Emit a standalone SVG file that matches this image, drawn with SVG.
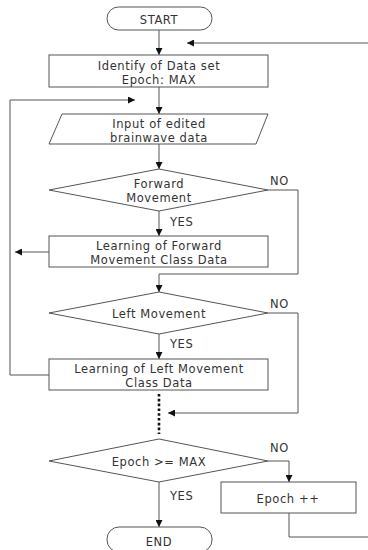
<svg xmlns="http://www.w3.org/2000/svg" width="368" height="550" viewBox="0 0 368 550">
<style>
.s{fill:#fff;stroke:#555;stroke-width:1}
.c{fill:none;stroke:#555;stroke-width:1}
.a{marker-end:url(#ah)}
text{font-family:"DejaVu Sans","Noto Sans","Liberation Sans",sans-serif;font-size:11.5px;letter-spacing:0.6px;fill:#333;text-anchor:middle;dominant-baseline:central}
.l{text-anchor:start}
</style>
<defs>
<marker id="ah" viewBox="0 0 10 10" refX="10" refY="5" markerWidth="7" markerHeight="7" markerUnits="userSpaceOnUse" orient="auto">
<path d="M0,0 L10,5 L0,10 z" fill="#111"/>
</marker>
</defs>
<rect width="368" height="550" fill="#fff"/>
<g id="connectors">
<path class="c a" d="M159,30 V55"/>
<path class="c a" d="M368,43 H187"/>
<path class="c a" d="M159,87 V114"/>
<path class="c a" d="M49,375 H10 V100 H135"/>
<path class="c a" d="M159,144 V169"/>
<path class="c a" d="M159,211 V236"/>
<path class="c a" d="M49,252 H15"/>
<path class="c a" d="M268,190 H298 V274 H159 V292"/>
<path class="c a" d="M159,334 V359"/>
<path class="c a" d="M268,313 H298 V413 H168"/>
<path d="M159,394 V434" fill="none" stroke="#111" stroke-width="2.6" stroke-dasharray="2.6 2.2"/>
<path class="c a" d="M159,482 V527"/>
<path class="c a" d="M268,461 H289 V482"/>
<path class="c" d="M289,513 V537 H368"/>
</g>
<g id="start"><rect class="s" x="107" y="7" width="105" height="23" rx="11.5"/><text x="159" y="20">START</text></g>
<g id="identify"><rect class="s" x="49" y="55" width="219" height="32"/><text x="159" y="65.5">Identify of Data set</text><text x="159" y="79.5">Epoch: MAX</text></g>
<g id="input"><polygon class="s" points="62,114 268,114 256,144 49,144"/><text x="159" y="124">Input of edited</text><text x="159" y="138">brainwave data</text></g>
<g id="forward"><polygon class="s" points="159,169 268,190 159,211 49,190"/><text x="159" y="184">Forward</text><text x="159" y="198">Movement</text></g>
<g id="forward-learn"><rect class="s" x="49" y="236" width="219" height="31"/><text x="159" y="246">Learning of Forward</text><text x="159" y="260">Movement Class Data</text></g>
<g id="left"><polygon class="s" points="159,292 268,313 159,334 49,313"/><text x="159" y="314">Left Movement</text></g>
<g id="left-learn"><rect class="s" x="49" y="359" width="219" height="31"/><text x="159" y="369">Learning of Left Movement</text><text x="159" y="383">Class Data</text></g>
<g id="epoch-check"><polygon class="s" points="159,439 268,461 159,482 49,461"/><text x="159" y="462">Epoch &gt;= MAX</text></g>
<g id="epoch-inc"><rect class="s" x="221" y="482" width="135" height="31"/><text x="288" y="499">Epoch ++</text></g>
<g id="end"><rect class="s" x="107" y="527" width="105" height="25" rx="12"/><text x="159" y="542">END</text></g>
<g id="labels">
<text class="l" x="270" y="181">NO</text>
<text class="l" x="170" y="222">YES</text>
<text class="l" x="270" y="304">NO</text>
<text class="l" x="170" y="344">YES</text>
<text class="l" x="270" y="448">NO</text>
<text class="l" x="170" y="496">YES</text>
</g>
</svg>
